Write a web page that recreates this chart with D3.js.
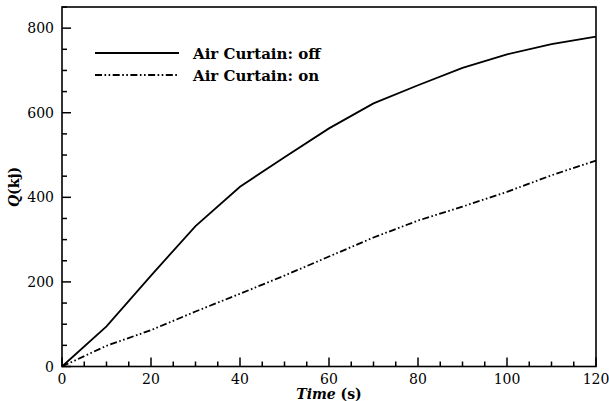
<!DOCTYPE html>
<html><head><meta charset="utf-8">
<script src="https://cdn.jsdelivr.net/npm/d3@7"></script>
<style>body{margin:0;background:#fff}svg{display:block}</style>
</head><body><svg id="c" width="609" height="401"></svg>
<script>
const time = [0,10,20,30,40,50,60,70,80,90,100,110,120];
const curtainOff = [0,95,215,332,425,495,563,622,665,706,738,762,780];
const curtainOn = [0,49,86,130,172,215,260,305,345,378,413,452,487];
const xTicks = [0,20,40,60,80,100,120];
const yTicks = [0,200,400,600,800];
const seriesNames = ["Air Curtain: off","Air Curtain: on"];

const FONT = "'DejaVu Serif', serif";
const svg = d3.select("#c");
const L=62, R=596, T=7, B=366.5;
const x = d3.scaleLinear().domain([0,120]).range([L,R]);
const y = d3.scaleLinear().domain([0,850]).range([B,T]);

const dashPat = "7,2.5,1.6,2.5,1.6,2.5";
const line = d3.line().x((d,i)=>x(time[i])).y(d=>y(d));

svg.append("path").datum(curtainOff).attr("d",line).attr("fill","none").attr("stroke","#000").attr("stroke-width",1.8);
svg.append("path").datum(curtainOn).attr("d",line).attr("fill","none").attr("stroke","#000").attr("stroke-width",1.8).attr("stroke-dasharray",dashPat);

svg.append("rect").attr("x",L).attr("y",T).attr("width",R-L).attr("height",B-T).attr("fill","none").attr("stroke","#000").attr("stroke-width",1.6);

const xMinor = d3.range(0,121,5);
const gx = svg.append("g");
gx.selectAll("line").data(xMinor).join("line")
  .attr("x1",d=>x(d)).attr("x2",d=>x(d)).attr("y1",B).attr("y2",d=>B-(d%20===0?9:5))
  .attr("stroke","#000").attr("stroke-width",1.5);
gx.selectAll("text").data(xTicks).join("text")
  .style("font-family",FONT)
  .attr("x",d=>x(d)).attr("y",384).attr("text-anchor","middle").attr("font-size",14).text(d=>d);

const yMinor = d3.range(0,851,50);
const gy = svg.append("g");
gy.selectAll("line").data(yMinor).join("line")
  .attr("x1",L).attr("x2",d=>L+(d%200===0?9:5)).attr("y1",d=>y(d)).attr("y2",d=>y(d))
  .attr("stroke","#000").attr("stroke-width",1.5);
gy.selectAll("text").data(yTicks).join("text")
  .style("font-family",FONT)
  .attr("x",54).attr("y",d=>y(d)).attr("dy","0.36em").attr("text-anchor","end").attr("font-size",14).text(d=>d);

const xt = svg.append("text").style("font-family",FONT).attr("x",329).attr("y",399).attr("text-anchor","middle").attr("font-size",14).attr("font-weight","bold");
xt.append("tspan").attr("font-style","italic").text("Time");
xt.append("tspan").text(" (s)");
const yt = svg.append("text").style("font-family",FONT).attr("transform","translate(19,187) rotate(-90)").attr("text-anchor","middle").attr("font-size",14).attr("font-weight","bold");
yt.append("tspan").attr("font-style","italic").text("Q");
yt.append("tspan").text("(kj)");

const leg = svg.append("g");
const ly = [53,75];
leg.selectAll("line").data(seriesNames).join("line")
  .attr("x1",95).attr("x2",179).attr("y1",(d,i)=>ly[i]).attr("y2",(d,i)=>ly[i])
  .attr("stroke","#000").attr("stroke-width",1.8).attr("stroke-dasharray",(d,i)=>i?dashPat:null);
leg.selectAll("text").data(seriesNames).join("text")
  .style("font-family",FONT)
  .attr("x",193).attr("y",(d,i)=>ly[i]+6).attr("font-size",15).attr("font-weight","bold").text(d=>d);
</script></body></html>
